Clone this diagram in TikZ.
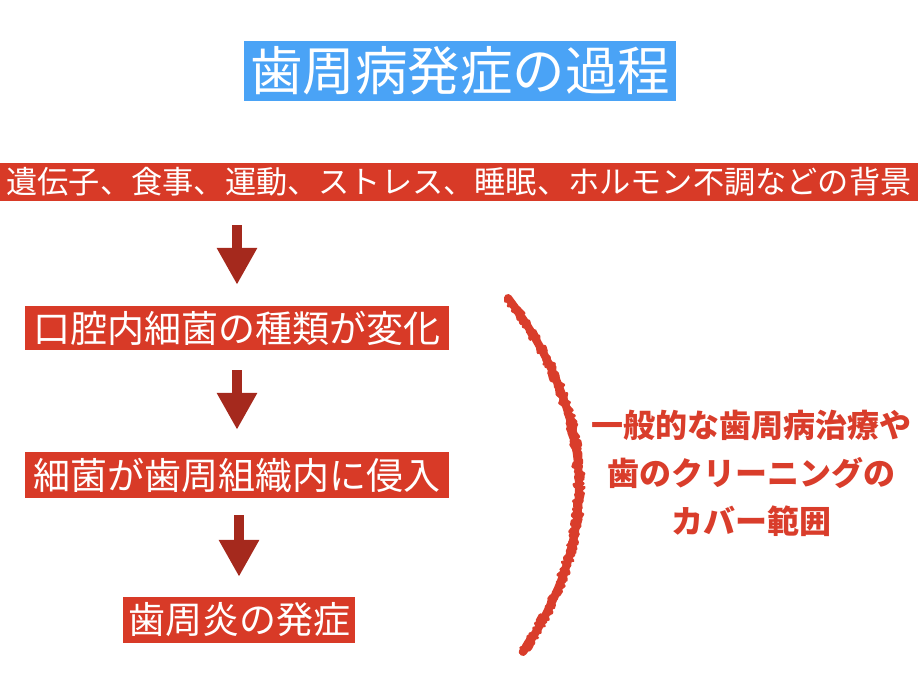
\documentclass[tikz,border=0pt]{standalone}
\usepackage{fontspec}
\setmainfont{Noto Sans CJK JP}
\usetikzlibrary{arrows.meta,decorations.pathmorphing}
\definecolor{titleblue}{HTML}{4AA3F6}
\definecolor{boxred}{HTML}{D83A27}
\definecolor{arrowred}{HTML}{A5291D}
\definecolor{txtred}{HTML}{D93D2B}
\tikzset{
  redbox/.style={fill=boxred, text=white, inner sep=0pt, font=\fontsize{37}{40}\selectfont, minimum height=44pt},
  fatarrow/.style={draw=arrowred, line width=10pt, -{Triangle[width=38pt,length=37pt]}},
  crayon/.style={draw=txtred, line cap=round, line join=round}
}
\begin{document}
\begin{tikzpicture}[x=1pt,y=-1pt]
\useasboundingbox (0,0) rectangle (920,688);
\node[fill=titleblue, text=white, inner sep=0pt, minimum width=432pt, minimum height=60pt, font=\fontsize{52.5}{56}\selectfont] (title) at (460,71) {歯周病発症の過程};
\node[redbox, minimum width=918pt, minimum height=38pt, font=\fontsize{31.2}{34}\selectfont] (bar) at (459,182) {遺伝子、食事、運動、ストレス、睡眠、ホルモン不調などの背景};
\node[redbox, minimum width=424pt] (b2) at (237,328) {口腔内細菌の種類が変化};
\node[redbox, minimum width=424pt, minimum height=46pt] (b3) at (237,475) {細菌が歯周組織内に侵入};
\node[redbox, minimum width=232pt, minimum height=46pt] (b4) at (239,620) {歯周炎の発症};
\draw[fatarrow, shorten <=24pt, shorten >=21pt] (b2.north |- bar.south) -- (b2.north);
\draw[fatarrow, shorten <=20pt, shorten >=22pt] (b2.south) -- (b3.north);
\draw[fatarrow, shorten <=17pt, shorten >=20pt] (b3.south -| b4.north) -- (b4.north);
\coordinate (arcTop) at (508,298);
\coordinate (arcBot) at (523,652);
\draw[crayon, line width=8pt] (arcTop) .. controls (600,420) and (600,540) .. (arcBot);
\draw[crayon, line width=3pt, decorate, decoration={random steps, segment length=2pt, amplitude=2.5pt}] ([xshift=2.5pt]arcTop) .. controls (603,420) and (603,540) .. ([xshift=2.5pt]arcBot);
\draw[crayon, line width=3pt, decorate, decoration={random steps, segment length=2pt, amplitude=2.5pt}] ([xshift=-2.5pt]arcTop) .. controls (597,420) and (597,540) .. ([xshift=-2.5pt]arcBot);
\node[text=txtred, align=center, font=\fontsize{32}{48}\selectfont\bfseries] (cover) at (751,473) {一般的な歯周病治療や\\歯のクリーニングの\\カバー範囲};
\end{tikzpicture}
\end{document}
